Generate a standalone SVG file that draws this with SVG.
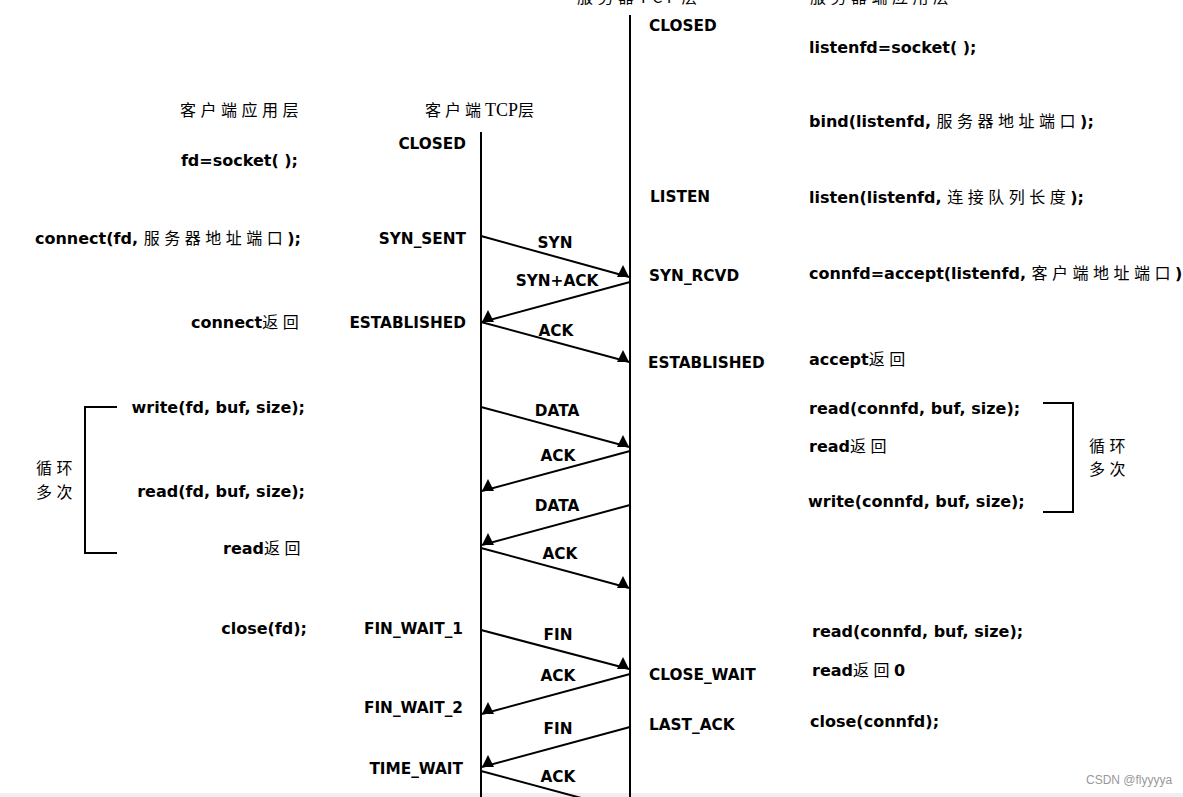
<svg xmlns="http://www.w3.org/2000/svg" width="1183" height="797" viewBox="0 0 1183 797">
<style>
.t{font-family:"DejaVu Sans","Liberation Sans",sans-serif;font-weight:bold;font-size:16px;fill:#000}
.s{font-size:15.3px}
.c{font-family:"Noto Sans CJK SC",sans-serif;font-weight:normal;font-size:16px;letter-spacing:4.5px;fill:#000}
.e{text-anchor:end}
.m{text-anchor:middle}
.ln{stroke:#000;stroke-width:2;fill:none}
.br{stroke:#000;stroke-width:2;fill:none}
</style>
<defs>
<marker id="aR" markerUnits="userSpaceOnUse" markerWidth="13" markerHeight="13" refX="12" refY="12" orient="0" viewBox="0 0 13 13"><path d="M0,12 L6,0 L12,12 Z" fill="#000"/></marker>
<marker id="aL" markerUnits="userSpaceOnUse" markerWidth="13" markerHeight="13" refX="0" refY="12" orient="0" viewBox="0 0 13 13"><path d="M0,12 L6,0 L12,12 Z" fill="#000"/></marker>
</defs>
<rect width="1183" height="797" fill="#fff"/>
<rect x="0" y="793" width="1183" height="4" fill="#efefef"/>

<g id="headers">
<text class="c" x="577" y="3">服务器TCP层</text>
<text class="c" x="810" y="3">服务器端应用层</text>
<text class="c" x="180" y="116">客户端应用层</text>
<text class="c" x="425" y="116" style="letter-spacing:4px">客户端<tspan style="font-family:'Liberation Serif',serif;font-size:18px;letter-spacing:0">TCP</tspan>层</text>
</g>

<g id="timelines">
<line class="ln" x1="481" y1="132" x2="481" y2="797"/>
<line class="ln" x1="630" y1="15" x2="630" y2="797"/>
</g>

<g id="connectors">
<line class="ln" x1="481" y1="236" x2="629" y2="277" marker-end="url(#aR)"/>
<line class="ln" x1="630" y1="282" x2="482" y2="322" marker-end="url(#aL)"/>
<line class="ln" x1="481" y1="322" x2="629" y2="362" marker-end="url(#aR)"/>
<line class="ln" x1="481" y1="407" x2="629" y2="447" marker-end="url(#aR)"/>
<line class="ln" x1="630" y1="451" x2="482" y2="491" marker-end="url(#aL)"/>
<line class="ln" x1="630" y1="505" x2="482" y2="545" marker-end="url(#aL)"/>
<line class="ln" x1="481" y1="548" x2="629" y2="588" marker-end="url(#aR)"/>
<line class="ln" x1="481" y1="630" x2="629" y2="669" marker-end="url(#aR)"/>
<line class="ln" x1="630" y1="674" x2="482" y2="714" marker-end="url(#aL)"/>
<line class="ln" x1="630" y1="727" x2="482" y2="767" marker-end="url(#aL)"/>
<line class="ln" x1="481" y1="771" x2="585" y2="799"/>
<text class="t s m" x="555" y="248">SYN</text>
<text class="t s m" x="557" y="286">SYN+ACK</text>
<text class="t s m" x="556" y="336">ACK</text>
<text class="t s m" x="557" y="416">DATA</text>
<text class="t s m" x="558" y="461">ACK</text>
<text class="t s m" x="557" y="511">DATA</text>
<text class="t s m" x="560" y="559">ACK</text>
<text class="t s m" x="558" y="640">FIN</text>
<text class="t s m" x="558" y="681">ACK</text>
<text class="t s m" x="558" y="734">FIN</text>
<text class="t s m" x="558" y="782">ACK</text>
</g>

<g id="client-app">
<text class="t e" x="298" y="166">fd=socket( );</text>
<text class="t" x="35" y="244">connect(fd, <tspan class="c">服务器地址端口</tspan>);</text>
<text class="t" x="191" y="328">connect<tspan class="c">返回</tspan></text>
<text class="t e" x="305" y="413">write(fd, buf, size);</text>
<text class="t e" x="305" y="497">read(fd, buf, size);</text>
<text class="t" x="223" y="554">read<tspan class="c">返回</tspan></text>
<text class="t e" x="307" y="634">close(fd);</text>
<polyline class="br" points="117,407 85,407 85,553 117,553"/>
<text class="c" x="36" y="474">循环</text>
<text class="c" x="36" y="498">多次</text>
</g>

<g id="client-tcp">
<text class="t s e" x="466" y="149">CLOSED</text>
<text class="t s e" x="466" y="244">SYN_SENT</text>
<text class="t s e" x="466" y="328">ESTABLISHED</text>
<text class="t s e" x="463" y="634">FIN_WAIT_1</text>
<text class="t s e" x="463" y="713">FIN_WAIT_2</text>
<text class="t s e" x="463" y="774">TIME_WAIT</text>
</g>

<g id="server-tcp">
<text class="t s" x="649" y="31">CLOSED</text>
<text class="t s" x="650" y="202">LISTEN</text>
<text class="t s" x="649" y="281">SYN_RCVD</text>
<text class="t s" x="648" y="368">ESTABLISHED</text>
<text class="t s" x="649" y="680">CLOSE_WAIT</text>
<text class="t s" x="649" y="730">LAST_ACK</text>
</g>

<g id="server-app">
<text class="t" x="809" y="53">listenfd=socket( );</text>
<text class="t" x="809" y="127">bind(listenfd, <tspan class="c">服务器地址端口</tspan>);</text>
<text class="t" x="809" y="203">listen(listenfd, <tspan class="c">连接队列长度</tspan>);</text>
<text class="t" x="809" y="279">connfd=accept(listenfd, <tspan class="c">客户端地址端口</tspan>)</text>
<text class="t" x="809" y="365">accept<tspan class="c">返回</tspan></text>
<text class="t" x="809" y="414">read(connfd, buf, size);</text>
<text class="t" x="809" y="452">read<tspan class="c">返回</tspan></text>
<text class="t" x="808" y="507">write(connfd, buf, size);</text>
<polyline class="br" points="1043,403 1073,403 1073,512 1043,512"/>
<text class="c" x="1089" y="452">循环</text>
<text class="c" x="1089" y="475">多次</text>
<text class="t" x="812" y="637">read(connfd, buf, size);</text>
<text class="t" x="812" y="676">read<tspan class="c">返回</tspan>0</text>
<text class="t" x="810" y="727">close(connfd);</text>
</g>

<text x="1086" y="784" style="font-family:'Liberation Sans',sans-serif;font-size:12px;fill:#999">CSDN @flyyyya</text>
</svg>
